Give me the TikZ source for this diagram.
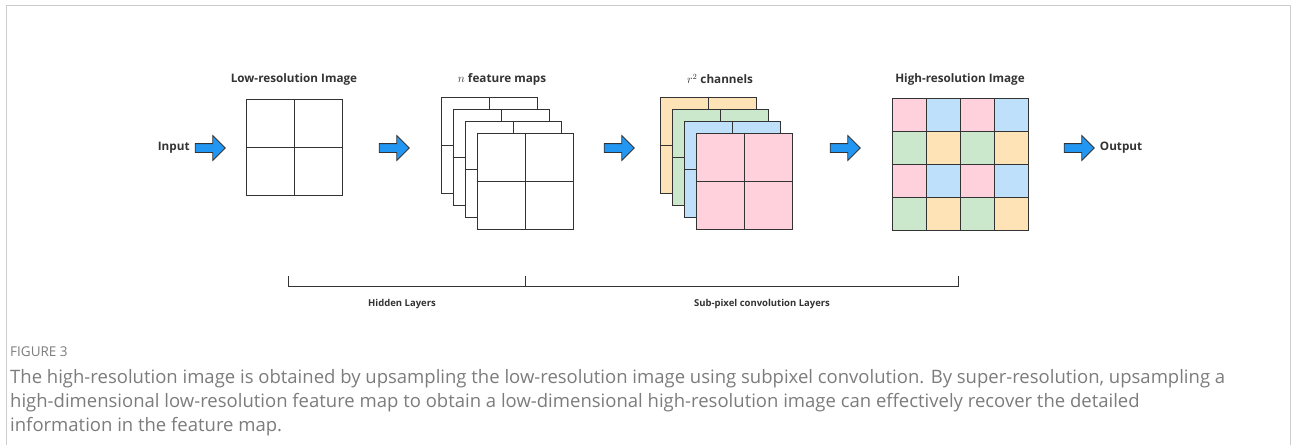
\documentclass[tikz,border=0pt]{standalone}
\usepackage{fontspec}
\setmainfont{Open Sans}
\usetikzlibrary{shapes.arrows,positioning}

\definecolor{arrowblue}{HTML}{2196F3}
\definecolor{cpink}{HTML}{FFD1DC}
\definecolor{cblue}{HTML}{BFE0FA}
\definecolor{cgreen}{HTML}{CCE8CC}
\definecolor{corange}{HTML}{FDE3B5}
\definecolor{framegray}{HTML}{CCCCCC}
\definecolor{capgray}{HTML}{7C7C7C}
\definecolor{inkgray}{HTML}{333333}

\begin{document}
\begin{tikzpicture}
        [x=1pt, y=-1pt,
        map/.style={draw=inkgray, line width=1pt, minimum size=96pt, inner sep=0pt, fill=white},
        flow/.style={single arrow, draw=inkgray, fill=arrowblue, line width=0.8pt,
            minimum height=30pt, inner sep=4pt, single arrow head extend=8pt,
            single arrow head indent=0pt},
        title/.style={font=\bfseries\fontsize{11.7}{13}\selectfont, text=inkgray, inner sep=1pt},
        layer/.style={font=\bfseries\fontsize{9.5}{11}\selectfont, text=inkgray},
        cell/.style={draw=inkgray, line width=0.8pt},
        bracket/.style={inkgray, line width=0.9pt}]

        \useasboundingbox (0,0) rectangle (1292,445);
        \draw[framegray, line width=1.5pt] (6.5,445) -- (6.5,5.5) -- (1290.5,5.5) -- (1290.5,445);

        % low-resolution image
        \node[title] (lrtitle) at (294,79) {Low-resolution Image};
        \node[map] (lowres) at (294,147) {};
        \draw[cell] (lowres.north) -- (lowres.south);
        \draw[cell] (lowres.west) -- (lowres.east);

        % n feature maps
        \node[title] (fmtitle) at (502,79) {$n$ feature maps};
        \foreach \i in {0,...,3} {
            \node[map] (fm\i) at (489+12*\i,145+12*\i) {};
            \draw[cell] (fm\i.north) -- (fm\i.south);
            \draw[cell] (fm\i.west) -- (fm\i.east);
        }

        % r^2 channels
        \node[title] (chtitle) at (720,79) {$r^2$ channels};
        \foreach \i/\col in {0/corange,1/cgreen,2/cblue,3/cpink} {
            \node[map, fill=\col] (ch\i) at (708+12*\i,145+12*\i) {};
            \draw[cell] (ch\i.north) -- (ch\i.south);
            \draw[cell] (ch\i.west) -- (ch\i.east);
        }

        % high-resolution image
        \node[title] (hrtitle) at (960,79) {High-resolution Image};
        \foreach \r/\ca/\cb in {0/cpink/cblue,1/cgreen/corange,2/cpink/cblue,3/cgreen/corange}
            \foreach \c/\col in {0/\ca,1/\cb,2/\ca,3/\cb}
                \draw[cell, fill=\col] (892+34*\c,98+33*\r) rectangle ++(34,33);
        \node[draw=inkgray, line width=1pt, minimum width=136pt, minimum height=132pt, inner sep=0pt] (hires) at (960,164) {};

        % arrows
        \node[flow] (inarrow) at (208,148) {};
        \node[flow] (arrow1) at (392,148) {};
        \node[flow] (arrow2) at (617,148) {};
        \node[flow] (arrow3) at (843,148) {};
        \node[flow] (outarrow) at (1077,148) {};
        \node[title, left=4pt of inarrow] (input) {Input};
        \node[title, right=4pt of outarrow] (output) {Output};

        % layer brackets
        \coordinate (hl) at (288,286);
        \coordinate (hm) at (525,286);
        \coordinate (hr) at (958,286);
        \draw[bracket] (hl) ++(0,-10) -- (hl) -- (hr) -- ++(0,-10);
        \draw[bracket] (hm) -- ++(0,-10);
        \node[layer] (hidden) at (402,304) {Hidden Layers};
        \node[layer] (subpixel) at (762,304) {Sub-pixel convolution Layers};

        % caption
        \node[anchor=west, text=capgray, font=\fontsize{13.5}{15}\selectfont, inner sep=0pt] (fig) at (10,352) {FIGURE 3};
        \node[anchor=north west, text=capgray, align=left, inner sep=0pt,
            font=\fontsize{18.5}{24}\selectfont] (caption) at (10,369)
            {The high-resolution image is obtained by upsampling the low-resolution image using subpixel convolution. By super-resolution, upsampling a\\
            high-dimensional low-resolution feature map to obtain a low-dimensional high-resolution image can effectively recover the detailed\\
            information in the feature map.};

    \end{tikzpicture}
\end{document}
